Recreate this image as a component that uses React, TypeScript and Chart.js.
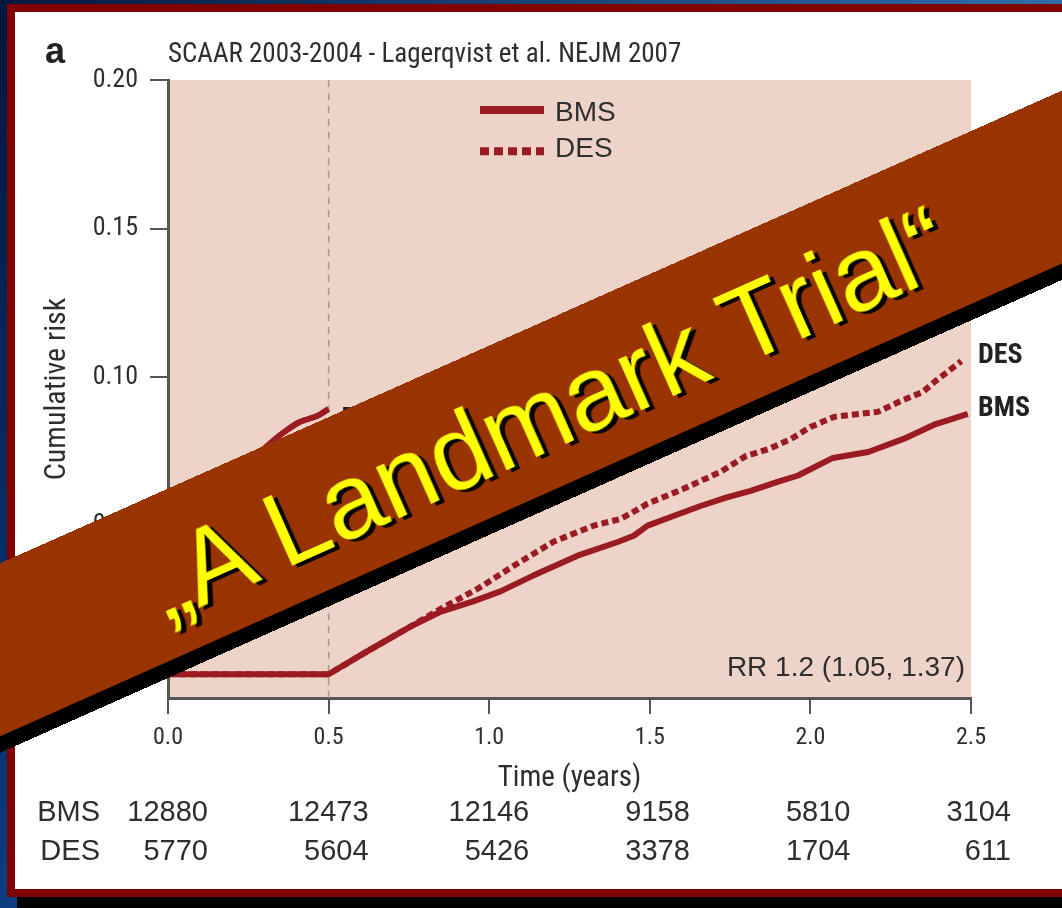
import React, { useEffect, useRef } from 'react';
import { Chart, registerables } from 'chart.js';

Chart.register(...registerables);

// ---------- data ----------
const LANDMARK = 0.5;
const xTicks = [0, 0.5, 1.0, 1.5, 2.0, 2.5];
const yTicks = [0, 0.05, 0.1, 0.15, 0.2];

const bmsTime = [0, 0.5, 0.62, 0.756, 0.85, 0.95, 1.035, 1.137, 1.275, 1.4, 1.45, 1.493, 1.58, 1.66, 1.74, 1.814, 1.9, 1.96, 2.07, 2.18, 2.29, 2.39, 2.43, 2.49];
const bmsRisk = [0, 0, 0.0077, 0.0161, 0.0211, 0.0245, 0.0279, 0.0332, 0.0399, 0.0445, 0.0466, 0.05, 0.0535, 0.0567, 0.0595, 0.0617, 0.0648, 0.0668, 0.0728, 0.0748, 0.0792, 0.0842, 0.0855, 0.0876];

const desTime = [0, 0.5, 0.62, 0.756, 0.85, 0.966, 1.078, 1.2, 1.325, 1.41, 1.45, 1.493, 1.605, 1.72, 1.8, 1.87, 1.94, 2.0, 2.073, 2.15, 2.21, 2.28, 2.35, 2.39, 2.47];
const desRisk = [0, 0, 0.0077, 0.0161, 0.0221, 0.0289, 0.0366, 0.0446, 0.05, 0.0523, 0.0547, 0.0574, 0.0624, 0.0681, 0.0735, 0.0758, 0.0792, 0.0832, 0.0866, 0.0876, 0.0883, 0.0919, 0.095, 0.0987, 0.1054];

const earlyTime = [0, 0.02, 0.05, 0.1, 0.15, 0.2, 0.25, 0.3, 0.358, 0.41, 0.464, 0.5];
const earlyRisk = [0, 0.025, 0.04, 0.052, 0.06, 0.066, 0.071, 0.076, 0.0812, 0.0849, 0.0869, 0.0893];

const riskGroups = ['BMS', 'DES'];
const bmsAtRisk = [12880, 12473, 12146, 9158, 5810, 3104];
const desAtRisk = [5770, 5604, 5426, 3378, 1704, 611];

const titleText = 'SCAAR 2003-2004 - Lagerqvist et al. NEJM 2007';
const panelLabel = 'a';
const rrText = 'RR 1.2 (1.05, 1.37)';
const bannerText = '\u201EA Landmark Trial\u201C';

// ---------- styles ----------
const NARROW = "'Roboto Condensed', 'Liberation Sans', sans-serif";
const SANS = "'Liberation Sans', Arial, sans-serif";
const RED = '#9a1c22';
const PINK = '#edd3c8';
const INK = '#2e2e2e';
const AXIS = '#555555';

const toPoints = (xs: number[], ys: number[]) => xs.map((x, i) => ({ x, y: ys[i] }));

const decorPlugin = {
  id: 'decor',
  beforeDraw(chart: any) {
    const { ctx, chartArea: a } = chart;
    ctx.save();
    ctx.fillStyle = PINK;
    ctx.fillRect(a.left, a.top, a.right - a.left, a.bottom - a.top);
    ctx.restore();
  },
  beforeDatasetsDraw(chart: any) {
    const { ctx, chartArea: a, scales } = chart;
    const x = scales.x.getPixelForValue(LANDMARK);
    ctx.save();
    ctx.strokeStyle = '#999999';
    ctx.lineWidth = 1.5;
    ctx.setLineDash([7, 6]);
    ctx.beginPath();
    ctx.moveTo(x, a.top);
    ctx.lineTo(x, a.bottom);
    ctx.stroke();
    ctx.restore();
  },
  afterDraw(chart: any) {
    const { ctx, chartArea: a, scales } = chart;
    const xs = scales.x;
    const ys = scales.y;
    ctx.save();

    // panel label + title
    ctx.fillStyle = '#222';
    ctx.textBaseline = 'alphabetic';
    ctx.textAlign = 'left';
    ctx.font = `bold 36px ${SANS}`;
    ctx.fillText(panelLabel, 45, 63);
    ctx.fillStyle = INK;
    ctx.font = `27px ${NARROW}`;
    ctx.fillText(titleText, a.left, 62);

    // legend
    const ds = chart.data.datasets;
    const rows = [0, 1];
    rows.forEach((di, r) => {
      const d = ds[di];
      const yLine = a.top + 30 + r * 41.2;
      ctx.strokeStyle = d.borderColor;
      ctx.lineWidth = 8;
      ctx.lineCap = 'butt';
      ctx.setLineDash(d.borderDash && d.borderDash.length ? [9, 5] : []);
      ctx.beginPath();
      ctx.moveTo(a.left + 312, yLine);
      ctx.lineTo(a.left + 376, yLine);
      ctx.stroke();
      ctx.setLineDash([]);
      ctx.fillStyle = INK;
      ctx.font = `28px ${SANS}`;
      ctx.textAlign = 'left';
      ctx.textBaseline = 'middle';
      ctx.fillText(d.label, a.left + 387, yLine + (r === 0 ? 3 : -2));
    });

    // end labels
    ctx.font = `bold 28px ${NARROW}`;
    ctx.fillStyle = '#222';
    ctx.textAlign = 'left';
    ctx.textBaseline = 'middle';
    [0, 1].forEach((di) => {
      const d = ds[di];
      const last = d.data[d.data.length - 1];
      ctx.fillText(d.label, a.right + 7, ys.getPixelForValue(last.y) - 5);
    });
    // early-period label (mostly under the banner)
    const e = ds[2].data[ds[2].data.length - 1];
    ctx.textBaseline = 'top';
    ctx.fillText('DES', xs.getPixelForValue(e.x) + 13, ys.getPixelForValue(e.y) - 3);

    // RR
    ctx.font = `28px ${SANS}`;
    ctx.fillStyle = INK;
    ctx.textAlign = 'right';
    ctx.textBaseline = 'middle';
    ctx.fillText(rrText, a.right - 6, a.bottom - 30);

    // at-risk table
    ctx.font = `29px ${SANS}`;
    const tables = [bmsAtRisk, desAtRisk];
    const rowY = [813, 852];
    tables.forEach((vals, r) => {
      ctx.textAlign = 'right';
      ctx.fillText(riskGroups[r], 100, rowY[r]);
      vals.forEach((v, i) => {
        ctx.fillText(String(v), xs.getPixelForValue(xTicks[i]) + 40, rowY[r]);
      });
    });
    ctx.restore();
  },
};

export default function App() {
  const ref = useRef<HTMLCanvasElement>(null);
  useEffect(() => {
    document.body.style.margin = '0';
    const chart = new Chart(ref.current as HTMLCanvasElement, {
      type: 'line',
      data: {
        datasets: [
          {
            label: 'BMS',
            data: toPoints(bmsTime, bmsRisk),
            borderColor: RED,
            borderWidth: 6,
            borderDash: [],
            pointRadius: 0,
            tension: 0,
            order: 1,
          },
          {
            label: 'DES',
            data: toPoints(desTime, desRisk),
            borderColor: RED,
            borderWidth: 6,
            borderDash: [7, 4],
            pointRadius: 0,
            tension: 0,
            order: 0,
          },
          {
            label: 'Early',
            data: toPoints(earlyTime, earlyRisk),
            borderColor: RED,
            borderWidth: 6,
            pointRadius: 0,
            tension: 0.3,
            order: 2,
          },
        ],
      } as any,
      options: {
        responsive: false,
        maintainAspectRatio: false,
        animation: false,
        layout: { padding: { left: 0, top: 80, right: 91, bottom: 0 } },
        plugins: {
          legend: { display: false },
          tooltip: { enabled: false },
          title: { display: false },
        },
        elements: { line: { borderCapStyle: 'butt', borderJoinStyle: 'round' } },
        scales: {
          x: {
            type: 'linear',
            min: 0,
            max: 2.5,
            afterBuildTicks: (s: any) => {
              s.ticks = xTicks.map((v) => ({ value: v }));
            },
            afterFit: (s: any) => {
              s.height = 210;
            },
            ticks: {
              callback: (v: any) => Number(v).toFixed(1),
              font: { family: NARROW, size: 24 },
              color: INK,
              padding: 10,
              maxRotation: 0,
              autoSkip: false,
            },
            grid: { drawOnChartArea: false, drawTicks: true, tickLength: 16, color: AXIS, lineWidth: 2 },
            border: { display: true, color: AXIS, width: 3 },
            title: {
              display: true,
              text: 'Time (years)',
              font: { family: NARROW, size: 29 },
              color: INK,
              padding: { top: 0, bottom: 112 },
            },
          },
          y: {
            type: 'linear',
            min: -0.008,
            max: 0.2,
            afterBuildTicks: (s: any) => {
              s.ticks = yTicks.map((v) => ({ value: v }));
            },
            afterFit: (s: any) => {
              s.width = 168;
            },
            ticks: {
              callback: (v: any) => Number(v).toFixed(2),
              font: { family: NARROW, size: 26 },
              color: INK,
              padding: 12,
              autoSkip: false,
            },
            grid: { drawOnChartArea: false, drawTicks: true, tickLength: 18, color: AXIS, lineWidth: 2 },
            border: { display: true, color: AXIS, width: 3 },
            title: {
              display: true,
              text: 'Cumulative risk',
              font: { family: NARROW, size: 30 },
              color: INK,
              padding: { top: 39, bottom: 0 },
            },
          },
        },
      } as any,
      plugins: [decorPlugin],
    });
    return () => chart.destroy();
  }, []);

  const cx = 550;
  const cy = 649.75 - 0.4454 * cx;
  const bw = 1500;
  const bh = 158;

  return (
    <div
      style={{
        position: 'fixed',
        left: 0,
        top: 0,
        width: 1062,
        height: 908,
        overflow: 'hidden',
        background: 'linear-gradient(to bottom, #02173e, #0b3d80)',
      }}
    >
      <div style={{ position: 'absolute', left: 0, top: 0, width: 1062, height: 4, background: 'linear-gradient(to right, #03183f, #2f6dac)' }} />
      <div style={{ position: 'absolute', left: 17, top: 15, width: 1100, height: 900, background: '#000' }} />
      <div
        style={{
          position: 'absolute',
          left: 7,
          top: 4,
          width: 1100,
          height: 893,
          boxSizing: 'border-box',
          border: '8px solid #800000',
          background: '#fff',
        }}
      />
      <canvas ref={ref} width={1062} height={908} style={{ position: 'absolute', left: 0, top: 0, width: 1062, height: 908 }} />
      <div
        style={{
          position: 'absolute',
          left: cx - bw / 2,
          top: cy - bh / 2,
          width: bw,
          height: bh,
          background: '#993300',
          boxShadow: '0 15px 0 #000',
          transform: 'rotate(-24deg)',
          display: 'flex',
          alignItems: 'center',
          justifyContent: 'center',
        }}
      >
        <span
          style={{
            fontFamily: SANS,
            fontSize: 106,
            lineHeight: 1,
            color: '#ffff00',
            textShadow: '4px 4px 0 #000',
            whiteSpace: 'nowrap',
            paddingTop: 10,
            marginRight: 12,
          }}
        >
          {bannerText}
        </span>
      </div>
    </div>
  );
}
